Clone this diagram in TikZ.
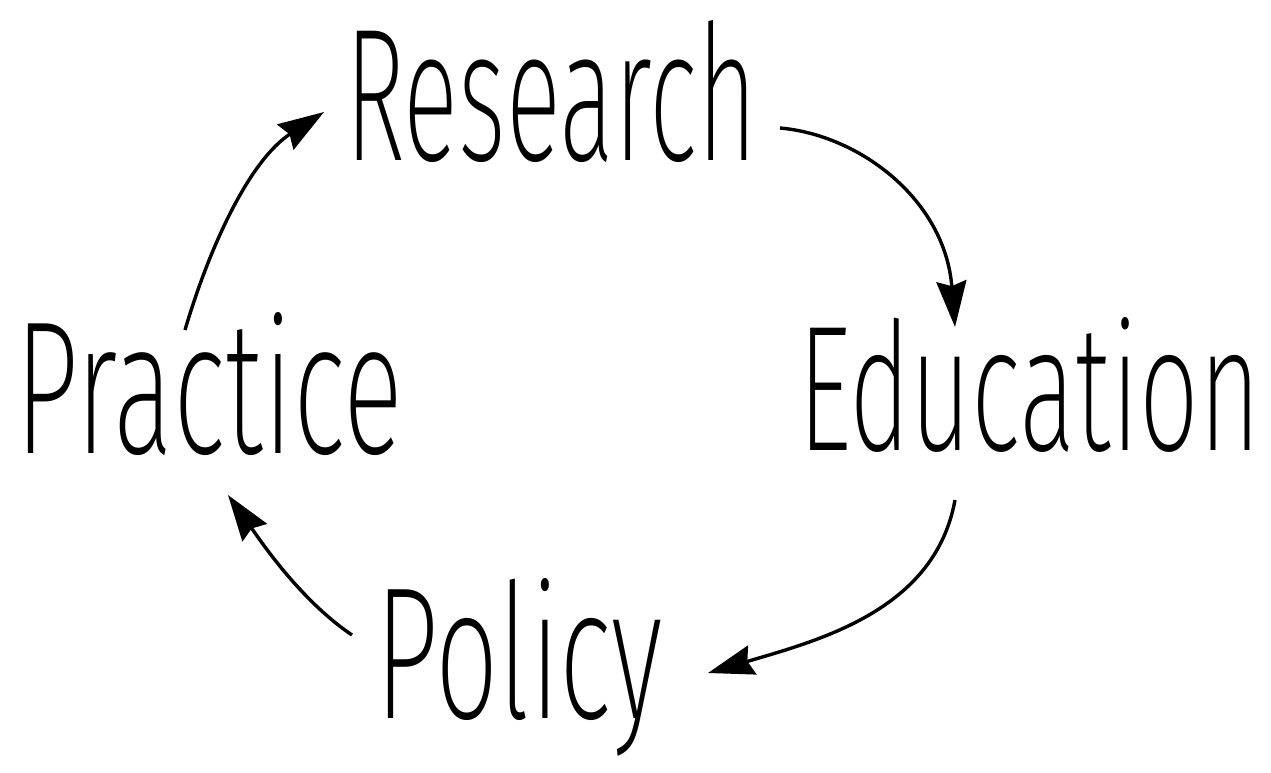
\documentclass[tikz,border=0pt]{standalone}
\usepackage{fontspec}
\usepackage{graphicx}
\usetikzlibrary{arrows.meta}
\newfontfamily\hand{Fira Sans ExtraLight}
\begin{document}
\begin{tikzpicture}[x=1pt,y=-1pt,
  word/.style={inner sep=0pt,anchor=base west,font=\hand},
  cyc/.style={line width=3.4pt,-{Stealth[length=46pt,width=30pt,inset=5pt]}}]
\useasboundingbox (0,0) rectangle (1271,772);
\node[word] (research) at (345,160) {\resizebox{412pt}{140pt}{Research}};
\node[word] (education) at (798,450) {\resizebox{462pt}{133pt}{Education}};
\node[word] (practice) at (15,453) {\resizebox{388pt}{141pt}{Practice}};
\node[word] (policy) at (375,718) {\resizebox{288pt}{140pt}{Policy}};
\coordinate (a1) at (185,330);
\coordinate (b1) at (324,112);
\coordinate (a2) at (780,128);
\coordinate (b2) at (955,327);
\coordinate (a3) at (955,500);
\coordinate (b3) at (708,673);
\coordinate (a4) at (352,635);
\coordinate (b4) at (228,495);
\draw[cyc] (a1) .. controls (210,245) and (250,160) .. (b1);
\draw[cyc] (a2) .. controls (860,135) and (945,200) .. (b2);
\draw[cyc] (a3) .. controls (935,610) and (820,640) .. (b3);
\draw[cyc] (a4) .. controls (300,600) and (260,540) .. (b4);
\end{tikzpicture}
\end{document}
